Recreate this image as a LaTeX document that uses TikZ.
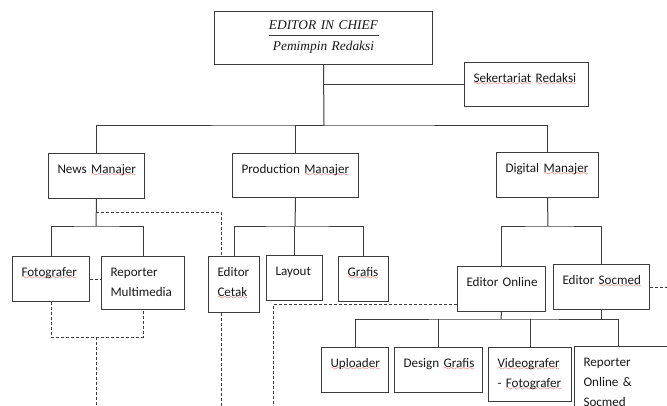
\documentclass[tikz,border=0pt]{standalone}
\usepackage{fontspec}
\setmainfont{Carlito}
\newfontfamily\chieffont{Liberation Serif}
\usetikzlibrary{calc}
\definecolor{ln}{HTML}{3C3C3C}
\definecolor{wavy}{HTML}{E02020}
\font\sqw=lasy6 at 7pt
\newcommand\sq[1]{\leavevmode\setbox0\hbox{#1}\rlap{\textcolor{wavy}{\lower3pt\hbox to\wd0{\xleaders\hbox{\sqw\char58}\hfil}}}\box0\relax}
\newcommand\bodyfont{\fontsize{13.1}{20}\selectfont\hyphenpenalty=10000\exhyphenpenalty=10000}
\tikzset{
 box/.style={draw=ln, line width=1pt, anchor=north west, inner xsep=9pt, inner ysep=0pt, align=left, font=\bodyfont, text height=20pt, text=black!90},
 conn/.style={draw=ln, line width=1pt},
 dsh/.style={draw=ln, line width=1pt, dash pattern=on 3pt off 2pt},
}
\begin{document}
\begin{tikzpicture}[x=1pt,y=-1pt]
\clip (0,0) rectangle (667,405);
\fill[white] (0,0) rectangle (667,405);

% nodes
\node[box, align=center, text width=200pt, text height=18pt, text depth=35pt, font=\chieffont\itshape\fontsize{13.4}{21}\selectfont] (chief) at (214,11) {EDITOR IN CHIEF\\Pemimpin Redaksi};
\draw[ln, line width=0.8pt] (269,35) -- (379,35);

\node[box, text width=106pt, text depth=24pt] (sekr) at (464,62) {\mbox{\sq{Sekertariat} \sq{Redaksi}}};
\node[box, text width=78pt, text depth=25pt] (news) at (48,153) {\mbox{News \sq{Manajer}}};
\node[box, text width=108pt, text depth=24pt] (prod) at (232,153) {\mbox{Production \sq{Manajer}}};
\node[box, text width=84pt, text depth=25pt] (dig) at (496,152) {\mbox{Digital \sq{Manajer}}};
\node[box, text width=59pt, text depth=25pt] (foto) at (12,256) {\sq{Fotografer}};
\node[box, text width=65pt, text depth=33pt] (repm) at (101,256) {Reporter\\Multimedia};
\node[box, text width=33pt, text depth=36pt] (edcetak) at (208,256) {Editor\\\sq{Cetak}};
\node[box, text width=38pt, text depth=25pt] (layout) at (266,255) {Layout};
\node[box, text width=32pt, text depth=25pt] (grafis) at (338,256) {\sq{Grafis}};
\node[box, text width=70pt, text depth=25pt] (edonline) at (457,266) {\mbox{Editor Online}};
\node[box, text width=78pt, text depth=25pt] (edsocmed) at (553,264) {\mbox{Editor \sq{Socmed}}};
\node[box, text width=49pt, text depth=25pt] (uploader) at (321,347) {\sq{Uploader}};
\node[box, text width=70pt, text depth=25pt] (design) at (394,347) {\mbox{Design \sq{Grafis}}};
\node[box, text width=65pt, text depth=34pt] (video) at (488,347) {\sq{Videografer}\\\mbox{- \sq{Fotografer}}};
\node[box, text width=98pt, text depth=74pt] (repon) at (574,346) {Reporter\\\mbox{Online \&}\\\sq{Socmed}};

% solid connectors
\coordinate (t1) at (324,125);
\draw[conn] (chief.south) -- (t1);
\draw[conn] (chief.south) |- (sekr.west);
\draw[conn] (news.north) |- (t1) -| (dig.north);
\draw[conn] (t1) -| (prod.north);

\coordinate (nj) at (96,226);
\draw[conn] (news.south) -- (nj);
\draw[conn] (foto.north) |- (nj) -| (repm.north);

\coordinate (pj) at (295,226);
\draw[conn] (prod.south) -- (pj);
\draw[conn] (edcetak.north) |- (pj) -| (grafis.north);
\draw[conn] (layout.north) -- (layout.north |- pj);

\coordinate (dj) at (548,226);
\draw[conn] (dig.south) -- (dj);
\draw[conn] (edonline.north) |- (dj) -| (edsocmed.north);

\coordinate (oj) at (501,319);
\coordinate (rt) at (618,346);
\draw[conn] (edonline.south) -- (oj);
\draw[conn] (uploader.north) |- (oj) -| (rt);
\draw[conn] (design.north) -- (design.north |- oj);
\draw[conn] (video.north) -- (video.north |- oj);
\draw[conn] (edsocmed.south) -- (edsocmed.south |- oj);

% dashed connectors
\coordinate (nd) at (96,212);
\draw[dsh] (nd) -| ([xshift=-12.5pt]edcetak.north);
\draw[dsh] ([xshift=-12.5pt]edcetak.south) -- ++(0,100);
\draw[dsh] (foto.east) -- (foto.east -| repm.west);
\coordinate (fb) at (96,337);
\draw[dsh] (foto.south) |- (fb) -| (repm.south);
\draw[dsh] (fb) -- ++(0,80);
\coordinate (ob) at (273,420);
\draw[dsh] ([yshift=-15.5pt]edonline.west) -| (ob);
\draw[dsh] (edsocmed.east) -- ++(30,0);
\end{tikzpicture}
\end{document}
